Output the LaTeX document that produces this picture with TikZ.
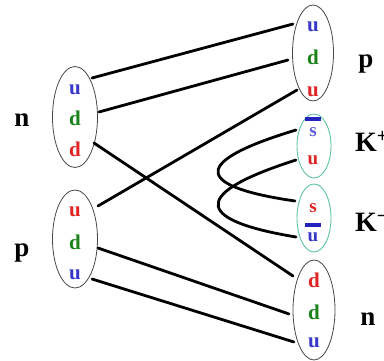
\documentclass[tikz,border=0pt]{standalone}
\usepackage{fontspec}
\setmainfont{Liberation Serif}
\usetikzlibrary{shapes.geometric}
\definecolor{qblue}{RGB}{55,55,200}
\definecolor{qlblue}{RGB}{95,95,215}
\definecolor{qgreen}{RGB}{25,130,25}
\definecolor{qred}{RGB}{225,35,35}
\definecolor{kteal}{RGB}{95,195,170}
\definecolor{hgrey}{RGB}{70,70,70}
\definecolor{barblue}{RGB}{35,35,190}
\begin{document}
\begin{tikzpicture}[x=1pt,y=-1pt,
  hadron/.style={ellipse, draw=hgrey, line width=0.8pt, inner sep=0pt},
  kaon/.style={ellipse, draw=kteal, line width=0.9pt, inner sep=0pt},
  quark/.style={anchor=base, inner sep=0pt, font=\fontsize{21}{21}\selectfont\bfseries},
  kq/.style={anchor=base, inner sep=0pt, font=\fontsize{19}{19}\selectfont\bfseries},
  lbl/.style={anchor=base, inner sep=0pt, font=\fontsize{27}{27}\selectfont\bfseries},
  klbl/.style={anchor=base west, inner sep=0pt, font=\fontsize{28}{28}\selectfont\bfseries},
  quarkline/.style={line width=2.8pt, line cap=round},
  antibar/.style={fill=barblue, draw=none, inner sep=0pt, minimum width=16pt, minimum height=4pt}
]
\useasboundingbox (0,0) rectangle (384,361);

% hadron ellipses
\node[hadron, minimum width=45pt, minimum height=101pt] (nL) at (75,117) {};
\node[hadron, minimum width=45pt, minimum height=98pt] (pL) at (75,239) {};
\node[hadron, minimum width=41pt, minimum height=96pt] (pR) at (313,53) {};
\node[kaon, minimum width=34pt, minimum height=64pt] (Kp) at (314,146) {};
\node[kaon, minimum width=34pt, minimum height=68pt] (Km) at (314,218) {};
\node[hadron, minimum width=42pt, minimum height=100pt] (nR) at (314,310) {};

% quarks, left neutron
\node[quark, text=qblue]  (nLu)  at (75,95)  {u};
\node[quark, text=qgreen] (nLd1) at (75,126) {d};
\node[quark, text=qred]   (nLd2) at (75,157) {d};
% left proton
\node[quark, text=qred]   (pLu1) at (75,217) {u};
\node[quark, text=qgreen] (pLd)  at (75,250) {d};
\node[quark, text=qblue]  (pLu2) at (75,280) {u};
% right proton
\node[quark, text=qblue]  (pRu1) at (313,32) {u};
\node[quark, text=qgreen] (pRd)  at (313,65) {d};
\node[quark, text=qred]   (pRu2) at (313,97) {u};
% K+
\node[antibar] (Kpbar) at (313,119) {};
\node[kq, text=qlblue] (Kps) at (313,137) {s};
\node[kq, text=qred]   (Kpu) at (313,165) {u};
% K-
\node[kq, text=qred]   (Kms) at (313,213) {s};
\node[antibar] (Kmbar) at (313,225.5) {};
\node[kq, text=qblue]  (Kmu) at (313,242) {u};
% right neutron
\node[quark, text=qred]   (nRd1) at (314,288) {d};
\node[quark, text=qgreen] (nRd2) at (314,320) {d};
\node[quark, text=qblue]  (nRu)  at (314,348) {u};

% labels
\node[lbl] (labnL) at (22,127) {n};
\node[lbl] (labpL) at (22,257) {p};
\node[lbl] (labpR) at (366,68) {p};
\node[lbl] (labnR) at (368,326) {n};
\node[klbl] (labKp) at (355,152) {K\textsuperscript{+}};
\node[klbl] (labKm) at (355,232) {K\textsuperscript{−}};

% line end points
\coordinate (a1) at (92,78);   \coordinate (b1) at (293,24);
\coordinate (a2) at (99,112);  \coordinate (b2) at (288,60);
\coordinate (a3) at (94,143);  \coordinate (b3) at (293,276);
\coordinate (a4) at (98,206);  \coordinate (b4) at (297,90);
\coordinate (a5) at (98,248);  \coordinate (b5) at (289,314);
\coordinate (a6) at (92,279);  \coordinate (b6) at (294,342);
\coordinate (c1) at (296,130); \coordinate (d1) at (295,201);
\coordinate (c2) at (296,160); \coordinate (d2) at (296,237);

\draw[quarkline] (a1) -- (b1);
\draw[quarkline] (a2) -- (b2);
\draw[quarkline] (a3) -- (b3);
\draw[quarkline] (a4) -- (b4);
\draw[quarkline] (a5) -- (b5);
\draw[quarkline] (a6) -- (b6);
\draw[quarkline] (c1) .. controls (180,165) and (205,188) .. (d1);
\draw[quarkline] (c2) .. controls (180,197) and (205,222) .. (d2);
\end{tikzpicture}
\end{document}
